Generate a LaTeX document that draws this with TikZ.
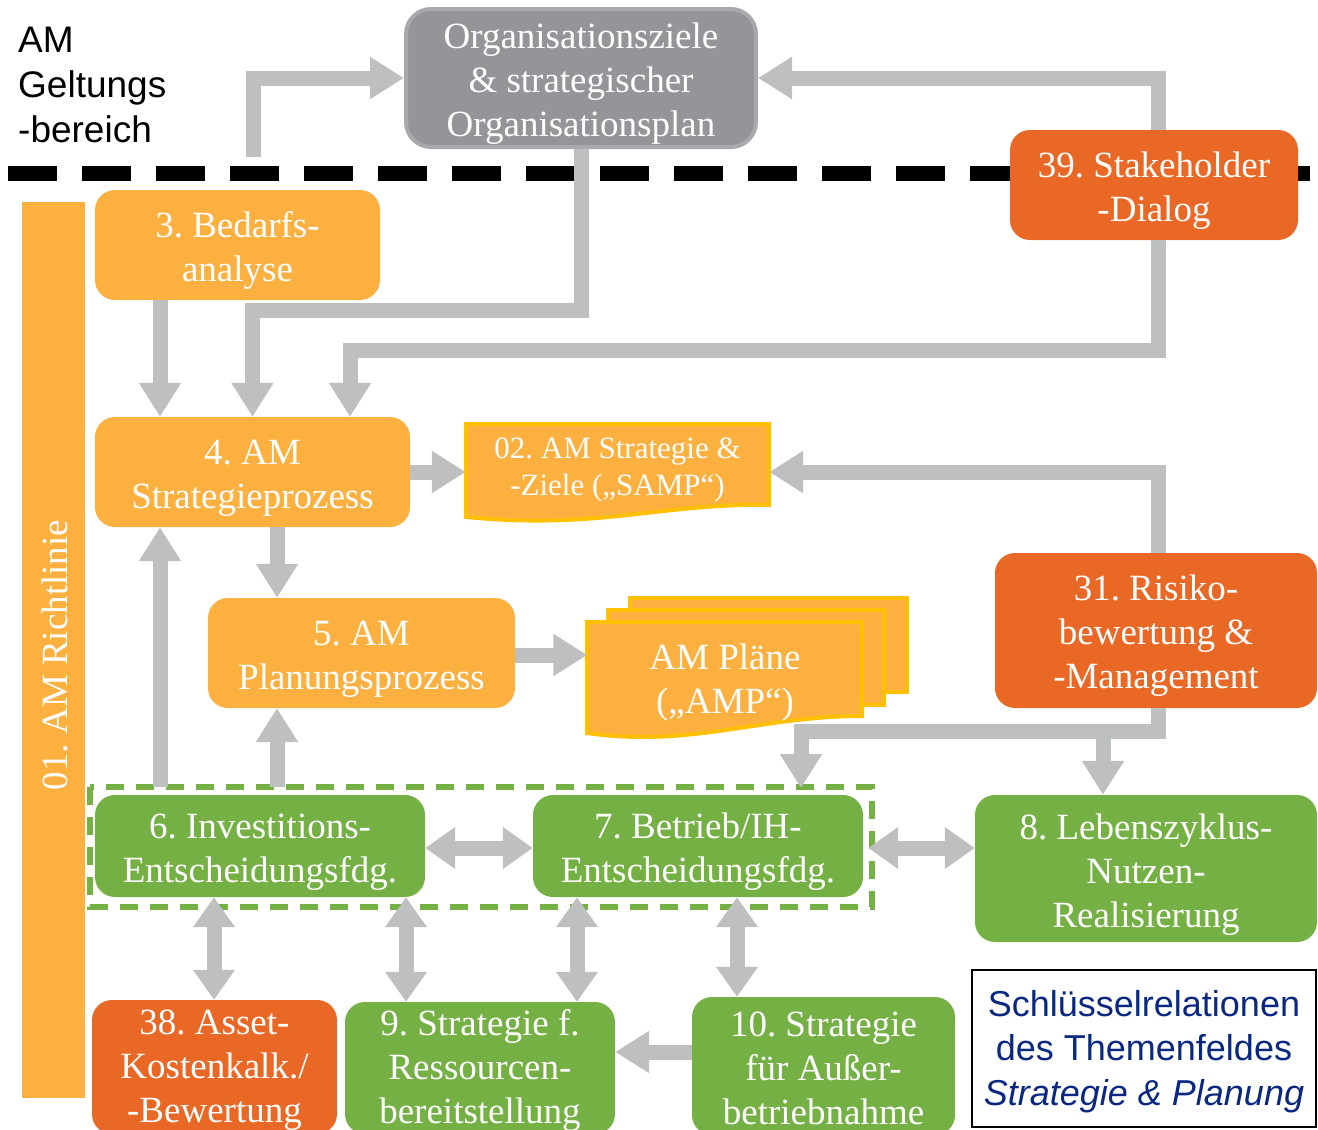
\documentclass[tikz,border=0pt]{standalone}
\usepackage{fontspec}
\setmainfont{Liberation Serif}
\newfontfamily\arialf{Liberation Sans}
\usetikzlibrary{arrows.meta}
\definecolor{amor}{RGB}{251,176,64}
\definecolor{amred}{RGB}{233,104,37}
\definecolor{amgreen}{RGB}{116,176,67}
\definecolor{amgray}{RGB}{147,149,152}
\definecolor{amgrayb}{RGB}{168,169,173}
\definecolor{amarrow}{RGB}{190,191,193}
\definecolor{amyellow}{RGB}{255,192,0}
\definecolor{amblue}{RGB}{10,40,130}
\newcommand{\toppad}[1]{\rule{0pt}{#1}}
\begin{document}
\begin{tikzpicture}[x=1pt,y=-1pt,
  box/.style={rounded corners=20pt, text=white, align=center, inner sep=0pt, font=\fontsize{37}{44}\selectfont\frenchspacing},
  obox/.style={box, fill=amor},
  rbox/.style={box, fill=amred},
  gbox/.style={box, fill=amgreen},
  txtnode/.style={text=white, align=center, inner sep=0pt},
  garrow/.style={draw=amarrow, line width=15pt, -{Triangle[length=34pt,width=40pt]}},
  gdarrow/.style={draw=amarrow, line width=15pt, {Triangle[length=30pt,width=40pt]}-{Triangle[length=30pt,width=40pt]}},
  docline/.style={draw=amyellow, line width=4pt, fill=amor, line join=miter},
]
\useasboundingbox (0,0) rectangle (1318,1130);
\clip (0,0) rectangle (1318,1130);

% scope text
\node[anchor=north west, inner sep=0pt, align=left, font=\arialf\fontsize{37}{45}\selectfont] (geltung) at (18,27) {AM\\Geltungs\\-bereich};

% black dashed boundary
\coordinate (dl) at (8,173);
\coordinate (dr) at (1310,173);
\draw[black, line width=15pt, dash pattern=on 49pt off 25pt] (dl) -- (dr);

% green dashed group
\draw[amgreen, line width=6pt, dash pattern=on 18pt off 12pt] (90,787) rectangle (872,907);

% nodes
\node[box, fill=amgray, draw=amgrayb, line width=4pt, rounded corners=25pt, minimum width=350pt, minimum height=138pt] (org) at (581,78) {\toppad{37pt}Organisationsziele\\\& strategischer\\Organisationsplan};
\node[rbox, minimum width=288pt, minimum height=110pt] (b39) at (1154,185) {\toppad{36pt}39. Stakeholder\\-Dialog};
\node[obox, minimum width=285pt, minimum height=110pt] (b3) at (237.5,245) {\toppad{36pt}3. Bedarfs-\\analyse};
\node[obox, minimum width=315pt, minimum height=110pt] (b4) at (252.5,472) {\toppad{37pt}4. AM\\Strategieprozess};
\node[obox, minimum width=307pt, minimum height=110pt] (b5) at (361.5,653) {\toppad{37pt}5. AM\\Planungsprozess};
\node[rbox, minimum width=322pt, minimum height=155pt] (b31) at (1156,630.5) {\toppad{36pt}31. Risiko-\\bewertung \&\\-Management};
\node[gbox, minimum width=330pt, minimum height=102pt] (b6) at (260,846) {\toppad{37pt}6. Investitions-\\Entscheidungsfdg.};
\node[gbox, minimum width=330pt, minimum height=102pt] (b7) at (698,846) {\toppad{37pt}7. Betrieb/IH-\\Entscheidungsfdg.};
\node[gbox, minimum width=342pt, minimum height=147pt] (b8) at (1146,868.5) {\toppad{37pt}8. Lebenszyklus-\\Nutzen-\\Realisierung};
\node[rbox, minimum width=245pt, minimum height=134pt] (b38) at (214.5,1067) {\toppad{31pt}38. Asset-\\Kostenkalk./\\-Bewertung};
\node[gbox, minimum width=270pt, minimum height=132pt] (b9) at (480,1068) {\toppad{31pt}9. Strategie f.\\Ressourcen-\\bereitstellung};
\node[gbox, minimum width=263pt, minimum height=138pt] (b10) at (823.5,1066) {\toppad{30pt}10. Strategie\\für Außer-\\betriebnahme};

% guideline bar
\node[fill=amor, minimum width=63pt, minimum height=896pt, inner sep=0pt] (b01) at (53.5,650) {};
\node[rotate=90, text=white, inner sep=0pt, font=\fontsize{37}{44}\selectfont\frenchspacing] (b01t) at (55,655) {01. AM Richtlinie};

% document 02
\draw[docline] (769,505) -- (769,424) -- (466,424) -- (466,517) .. controls (600,530) and (660,503) .. (769,505) -- cycle;
\node[txtnode, minimum width=303pt, minimum height=82pt, font=\fontsize{31}{37}\selectfont\frenchspacing] (d02) at (617.5,467) {\toppad{26pt}02. AM Strategie \&\\-Ziele („SAMP“)};

% multi-document AMP
\draw[docline] (630,598) rectangle (907,692);
\draw[docline] (608,610) rectangle (884,705);
\draw[docline] (862,716) -- (862,622) -- (587,622) -- (587,733) .. controls (690,748) and (760,716) .. (862,716) -- cycle;
\node[txtnode, minimum width=275pt, minimum height=96pt, font=\fontsize{37}{44}\selectfont] (amp) at (725,675) {\toppad{41pt}AM Pläne\\(„AMP“)};

% legend
\node[draw=black, line width=2pt, fill=white, minimum width=344pt, minimum height=157pt, inner sep=0pt, align=center, text=amblue, font=\arialf\fontsize{36}{44.5}\selectfont] (legend) at (1144,1048.5) {\toppad{32pt}Schlüsselrelationen\\des Themenfeldes\\\textit{Strategie \& Planung}};

% free ends
\coordinate (s1) at (253,157);
\coordinate (s6a) at (160,787);
\coordinate (s6b) at (277,787);
\coordinate (j31) at (801,731);
\coordinate (j31b) at (1103,731);
\coordinate (t7) at (801,788);

% connectors
\draw[garrow] (s1) |- (org.west);
\draw[garrow] ([xshift=4pt]b39.north) |- (org.east);
\draw[garrow] (org.south) -- (org.south |- 0,310) -| (b4.north);
\draw[garrow] (b3.south -| 160,0) -- (b4.north -| 160,0);
\draw[garrow] ([xshift=4pt]b39.south) |- (350,350) -- (b4.north -| 350,0);
\draw[garrow] (b4.east |- 0,472) -- (d02.west |- 0,472);
\draw[garrow] ([xshift=2pt]b31.north) |- (d02.east |- 0,472);
\draw[garrow] (b4.south -| 277,0) -- (b5.north -| 277,0);
\draw[garrow] (s6a) -- (b4.south -| s6a);
\draw[garrow] (s6b) -- (b5.south -| s6b);
\draw[garrow] (b5.east |- 0,655) -- (amp.west |- 0,655);
\draw[garrow] ([xshift=2pt]b31.south) |- (j31) -- (t7);
\draw[garrow] (j31b) -- (b8.north -| j31b);
\draw[gdarrow] (b6.east |- 0,848) -- (b7.west |- 0,848);
\draw[gdarrow] ([xshift=5pt]b7.east |- 0,848) -- (b8.west |- 0,848);
\draw[gdarrow] (b6.south -| 214,0) -- (b38.north -| 214,0);
\draw[gdarrow] (b6.south -| 406,0) -- (b9.north -| 406,0);
\draw[gdarrow] (b7.south -| 577,0) -- (b9.north -| 577,0);
\draw[gdarrow] (b7.south -| 737,0) -- (b10.north -| 737,0);
\draw[garrow] (b10.west |- 0,1052) -- (b9.east |- 0,1052);
\end{tikzpicture}
\end{document}
